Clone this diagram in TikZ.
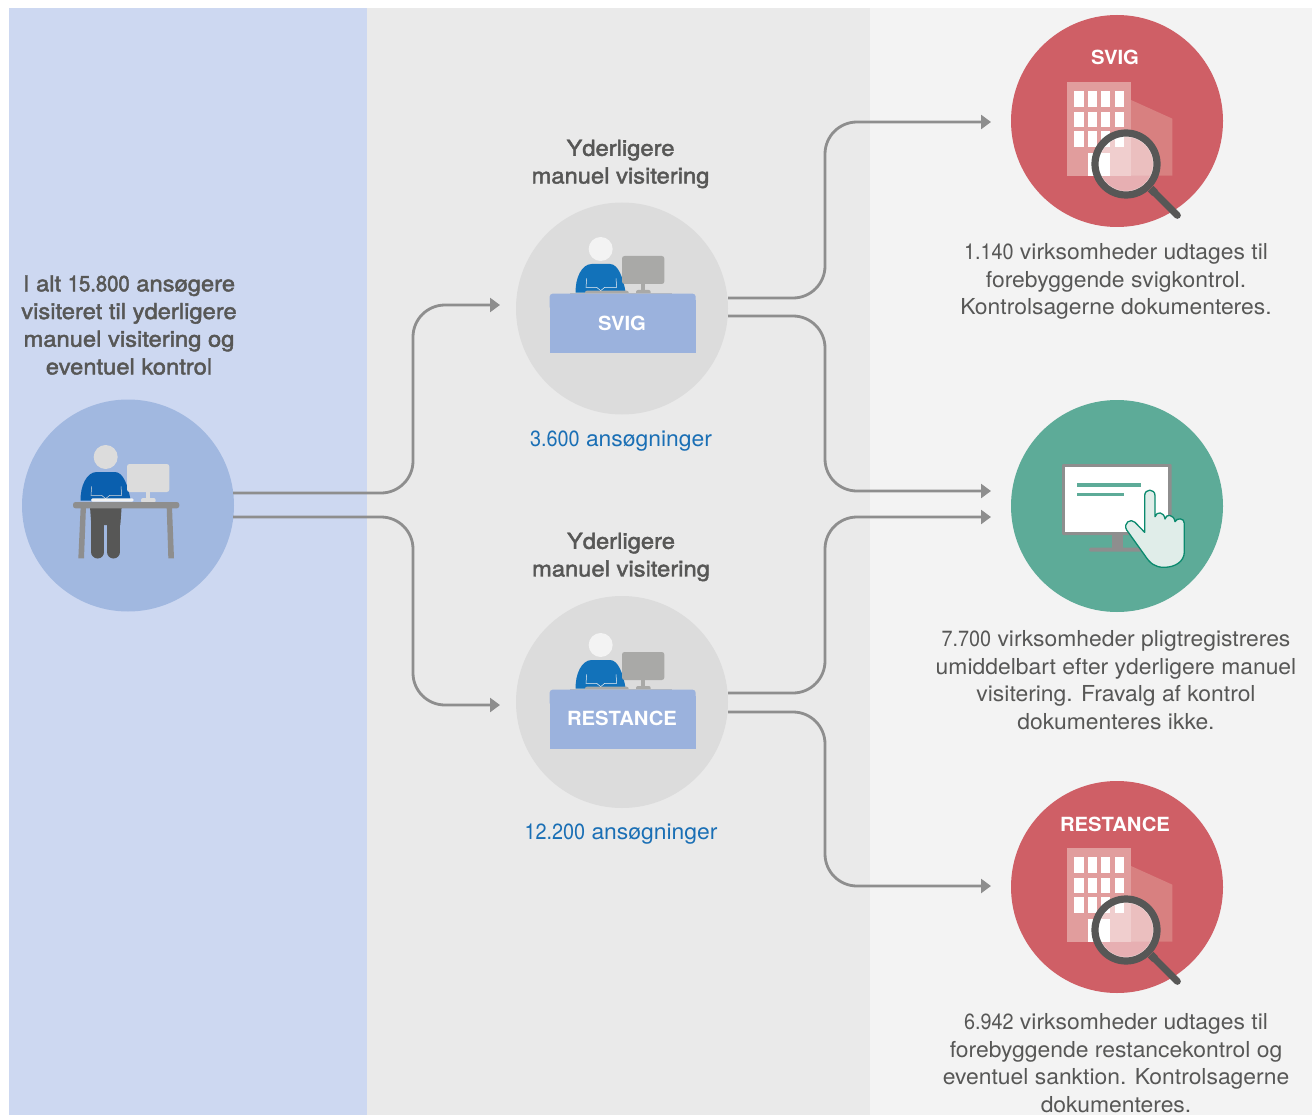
\documentclass[tikz,border=0pt]{standalone}
\usepackage{fontspec}
\setmainfont[FakeStretch=1.04]{TeX Gyre Heros}
\newfontfamily\medfont[FakeBold=2,FakeStretch=1.08]{TeX Gyre Heros}
\newfontfamily\numfont[FakeStretch=0.9]{TeX Gyre Heros}
\newfontfamily\mednum[FakeBold=2,FakeStretch=0.92]{TeX Gyre Heros}
\usetikzlibrary{arrows.meta,calc}
\definecolor{bandblue}{HTML}{CDD8F1}
\definecolor{bandgrey}{HTML}{EAEAEA}
\definecolor{bandlight}{HTML}{F3F3F3}
\definecolor{circblue}{HTML}{A1B8E0}
\definecolor{circgrey}{HTML}{DCDCDC}
\definecolor{circred}{HTML}{CF5F66}
\definecolor{circgreen}{HTML}{5DAB98}
\definecolor{conn}{HTML}{8E8E8E}
\definecolor{txtgrey}{HTML}{575756}
\definecolor{txtblue}{HTML}{1A6FB5}
\definecolor{deskblue}{HTML}{9BB2DD}
\definecolor{shirt}{HTML}{1272BA}
\definecolor{shirtb}{HTML}{0A5FAE}
\definecolor{pcgrey}{HTML}{A9A9A7}
\definecolor{bldgA}{HTML}{E19D9D}
\definecolor{bldgB}{HTML}{D88080}
\definecolor{handline}{HTML}{0B8A6E}
\definecolor{handfill}{HTML}{E0EDE9}
\tikzset{
  x=1pt,y=-1pt,
  disc/.style={circle,minimum size=212pt,inner sep=0pt,draw=none},
  body/.style={font=\fontsize{22}{27.7}\selectfont,text=txtgrey,align=center,inner sep=0pt},
  head/.style={font=\medfont\fontsize{22}{27.7}\selectfont,text=txtgrey,align=center,inner sep=0pt},
  count/.style={font=\fontsize{22}{27.7}\selectfont,text=txtblue,align=center,inner sep=0pt},
  tag/.style={font=\bfseries\fontsize{19.5}{22}\selectfont,text=white,inner sep=0pt},
  link/.style={draw=conn,line width=2.8pt,rounded corners=32pt,-{Triangle[length=10pt,width=14pt,fill=conn]}},
}
% person and monitor, drawn in 3x zoom coordinates; #1 head, #2 shirt, #3 pc
\newcommand{\personicon}[3]{%
  \fill[#1] (272,147) circle (36);
  \fill[#2] (197,278) .. controls (195,235) and (215,192) .. (245,192) -- (300,192)
    .. controls (325,192) and (340,235) .. (347,278) -- cycle;
  \draw[#1,line width=.5pt] (230,235) -- (228,262) -- (260,262) -- (272,272) -- (284,262) -- (320,262) -- (318,235);
  \fill[#3,rounded corners=2.5pt] (336,168) rectangle (463,252);
  \fill[#3] (393,252) rectangle (406,272);
  \fill[#3,rounded corners=2pt] (378,270) rectangle (422,284);
}
\newcommand{\deskicon}[1]{%
  \begin{scope}[shift={(510,#1)},scale=1/3]
    \personicon{bandlight}{shirt}{pcgrey}
    \fill[pcgrey,rounded corners=2pt] (225,272) rectangle (356,285);
    \fill[pcgrey!80!white] (180,279) rectangle (487,285);
    \fill[deskblue,rounded corners=3pt] (119,330) -- (119,281) -- (557,281) -- (557,330) -- cycle;
    \fill[deskblue] (119,300) rectangle (557,460);
  \end{scope}}
% building with magnifier
\newcommand{\bldgicon}[1]{%
  \begin{scope}[shift={(1000,#1)},scale=1/3]
    \fill[bldgB] (393,270) -- (517,326) -- (517,497) -- (393,497) -- cycle;
    \fill[bldgA] (201,215) rectangle (393,497);
    \foreach \xa/\xb in {222/252,264/291,304/331,345/372}{
      \fill[white] (\xa,243) rectangle (\xb,291);
      \fill[white] (\xa,305) rectangle (\xb,351);
      \fill[white] (\xa,362) rectangle (\xb,411);
    }
    \fill[white] (264,428) rectangle (330,497);
    \fill[white,opacity=.5] (378,462) circle (93);
    \draw[white,opacity=.55,line width=1.3pt] (378,462) circle (83);
    \draw[txtgrey,line width=7.2pt] (378,462) circle (93);
    \draw[txtgrey,line width=8pt] (452,536) -- (465,549);
    \draw[txtgrey,line width=7pt,line cap=round] (465,549) -- (532,616);
  \end{scope}}
\begin{document}
\begin{tikzpicture}
\useasboundingbox (0,0) rectangle (1316,1115);
\fill[white] (0,0) rectangle (1316,1115);
\fill[bandblue] (9,8) rectangle (367,1115);
\fill[bandgrey] (367,8) rectangle (870,1115);
\fill[bandlight] (870,8) rectangle (1312,1115);

% discs
\node[disc,fill=circblue] (start) at (128,505.5) {};
\node[disc,fill=circgrey] (fraud) at (622,308.5) {};
\node[disc,fill=circgrey] (arrears) at (622,702) {};
\node[disc,fill=circred] (rfraud) at (1117,121) {};
\node[disc,fill=circgreen] (rreg) at (1117,506) {};
\node[disc,fill=circred] (rarrears) at (1117,887) {};

% icon: start person at desk
\begin{scope}[shift={(15,395)},scale=1/3]
  \fill[txtgrey] (225,335) -- (320,335) -- (316,390) -- (229,390) -- cycle;
  \draw[txtgrey,line width=13pt,line cap=round] (248.5,385) -- (248.5,471);
  \draw[txtgrey,line width=13pt,line cap=round] (295.5,385) -- (295.5,471);
  \begin{scope}[shift={(0,39)}]
    \personicon{circgrey}{shirtb}{circgrey}
  \end{scope}
  \fill[bandlight,rounded corners=1.5pt] (228,310) rectangle (356,320);
  \fill[conn] (197,335) -- (213,335) -- (207,490) -- (190,490) -- cycle;
  \fill[conn] (455,335) -- (471,335) -- (477,490) -- (460,490) -- cycle;
  \fill[conn,rounded corners=2.5pt] (174,321) rectangle (493,340);
\end{scope}

\deskicon{200}
\deskicon{596}
\bldgicon{10}
\bldgicon{776}

% icon: monitor and hand
\begin{scope}[shift={(1000,395)},scale=1/3]
  \fill[conn,rounded corners=1pt] (186,207) rectangle (515,420);
  \fill[white] (196,216) rectangle (505,410);
  \fill[conn] (336,420) rectangle (368,460);
  \fill[conn,rounded corners=1.5pt] (267,458) rectangle (430,470);
  \fill[circgreen] (231,264) rectangle (423,276);
  \fill[circgreen] (231,293) rectangle (372,303);
  \draw[handline,fill=handfill,line width=1.3pt,line join=round]
    (434,302) .. controls (434,280) and (465,280) .. (465,302) -- (465,365)
    .. controls (470,348) and (492,350) .. (495,372)
    .. controls (498,355) and (522,358) .. (525,380)
    .. controls (530,368) and (553,368) .. (553,385) -- (553,470)
    .. controls (553,500) and (525,517) .. (492,517)
    .. controls (465,517) and (450,505) .. (435,482)
    -- (380,405) .. controls (368,385) and (392,368) .. (405,382)
    -- (434,412) -- cycle;
\end{scope}

% tags
\node[tag] (tagfraud) at (622,323.5) {SVIG};
\node[tag] (tagarrears) at (622,718.5) {RESTANCE};
\node[tag] (tagrfraud) at (1115,57.5) {SVIG};
\node[tag] (tagrarrears) at (1115,824.5) {RESTANCE};

% texts
\node[head] (t0) at (129,325) {I alt {\mednum 15.800} ansøgere\\visiteret til yderligere\\manuel visitering og\\eventuel kontrol};
\node[head] (t1) at (620.5,164) {Yderligere\\manuel visitering};
\node[head] (t2) at (621,557) {Yderligere\\manuel visitering};
\node[count] (n1) at (621,441) {{\numfont 3.600} ansøgninger};
\node[count] (n2) at (621,834) {{\numfont 12.200} ansøgninger};
\node[body] (r1) at (1116,281.5) {{\numfont 1.140} virksomheder udtages til\\forebyggende svigkontrol.\\Kontrolsagerne dokumenteres.};
\node[body] (r2) at (1116,680) {{\numfont 7.700} virksomheder pligtregistreres\\umiddelbart efter yderligere manuel\\visitering. Fravalg af kontrol\\dokumenteres ikke.};
\node[body] (r3) at (1116,1063) {{\numfont 6.942} virksomheder udtages til\\forebyggende restancekontrol og\\eventuel sanktion. Kontrolsagerne\\dokumenteres.};

% connector ends
\coordinate (s1) at (233,493);
\coordinate (s2) at (233,517);
\coordinate (f1) at (728,298);
\coordinate (f2) at (728,316);
\coordinate (a1) at (728,693);
\coordinate (a2) at (728,712);
\coordinate (infraud) at (500,305);
\coordinate (inarrears) at (500,705);
\coordinate (outfraud) at (991,122);
\coordinate (outreg1) at (991,491);
\coordinate (outreg2) at (991,517);
\coordinate (outarrears) at (991,886);
\coordinate (busLa) at (413,400);
\coordinate (busLb) at (413,610);
\coordinate (busRa) at (825,210);
\coordinate (busRb) at (825,400);
\coordinate (busRc) at (825,605);
\coordinate (busRd) at (825,800);

\draw[link] (s1) -| (busLa) |- (infraud);
\draw[link] (s2) -| (busLb) |- (inarrears);
\draw[link] (f1) -| (busRa) |- (outfraud);
\draw[link] (f2) -| (busRb) |- (outreg1);
\draw[link] (a1) -| (busRc) |- (outreg2);
\draw[link] (a2) -| (busRd) |- (outarrears);
\end{tikzpicture}
\end{document}
